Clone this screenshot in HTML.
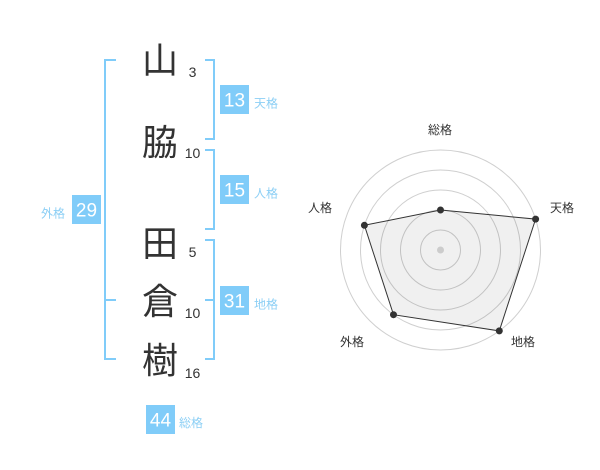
<!DOCTYPE html>
<html><head><meta charset="utf-8"><style>
html,body{margin:0;padding:0;background:#fff;}
body{width:600px;height:470px;overflow:hidden;position:relative;}
svg{position:absolute;left:0;top:0;}
text{font-family:"Liberation Sans","Noto Sans CJK JP",sans-serif;}
</style></head><body>
<svg width="600" height="470" viewBox="0 0 600 470" xmlns="http://www.w3.org/2000/svg">
<!-- brackets -->
<g stroke="#80ccf9" stroke-width="2" fill="none">
<polyline points="116,60 105,60 105,359 116,359"/>
<line x1="105" y1="300" x2="116" y2="300"/>
<polyline points="205,60 214,60 214,139 205,139"/>
<polyline points="205,150 214,150 214,229 205,229"/>
<polyline points="205,240 214,240 214,359 205,359"/>
<line x1="205" y1="300" x2="214" y2="300"/>
</g>
<!-- big characters -->
<g fill="#333" font-size="36" text-anchor="middle">
<text x="160" y="73">山</text>
<text x="160" y="155">脇</text>
<text x="160" y="256">田</text>
<text x="160" y="314">倉</text>
<text x="160" y="373">樹</text>
</g>
<g fill="#333" font-size="14" text-anchor="middle">
<text x="192.5" y="77">3</text>
<text x="192.5" y="158">10</text>
<text x="192.5" y="257">5</text>
<text x="192.5" y="318">10</text>
<text x="192.5" y="378">16</text>
</g>
<!-- boxes -->
<g fill="#80ccf9">
<rect x="220" y="85" width="29" height="29"/>
<rect x="220" y="175" width="29" height="29"/>
<rect x="220" y="286" width="29" height="29"/>
<rect x="72" y="195" width="29" height="29"/>
<rect x="146" y="405" width="29" height="29"/>
</g>
<g fill="#fff" font-size="19" text-anchor="middle">
<text x="234.5" y="106.5">13</text>
<text x="234.5" y="196.5">15</text>
<text x="234.5" y="307.5">31</text>
<text x="86.5" y="216.5">29</text>
<text x="160.5" y="426.5">44</text>
</g>
<g fill="#8ccff5" font-size="12">
<text x="254" y="107.5">天格</text>
<text x="254" y="197.5">人格</text>
<text x="254" y="308.5">地格</text>
<text x="41" y="217.5">外格</text>
<text x="179" y="427">総格</text>
</g>
<!-- radar -->
<g stroke="#cfcfcf" stroke-width="1" fill="none">
<circle cx="440.5" cy="250" r="20"/>
<circle cx="440.5" cy="250" r="40"/>
<circle cx="440.5" cy="250" r="60"/>
<circle cx="440.5" cy="250" r="80"/>
<circle cx="440.5" cy="250" r="100"/>
</g>
<polygon points="440.5,210 535.6,219.1 499.3,330.9 393.5,314.7 364.4,225.3" fill="rgba(0,0,0,0.06)" stroke="#333" stroke-width="1"/>
<circle cx="440.5" cy="250" r="3.5" fill="#cccccc"/>
<g fill="#333">
<circle cx="440.5" cy="210" r="3.5"/>
<circle cx="535.6" cy="219.1" r="3.5"/>
<circle cx="499.3" cy="330.9" r="3.5"/>
<circle cx="393.5" cy="314.7" r="3.5"/>
<circle cx="364.4" cy="225.3" r="3.5"/>
</g>
<g fill="#333" font-size="12" text-anchor="middle">
<text x="440" y="134">総格</text>
<text x="562" y="212">天格</text>
<text x="523" y="346">地格</text>
<text x="352" y="346">外格</text>
<text x="320" y="212">人格</text>
</g>
</svg>
</body></html>
